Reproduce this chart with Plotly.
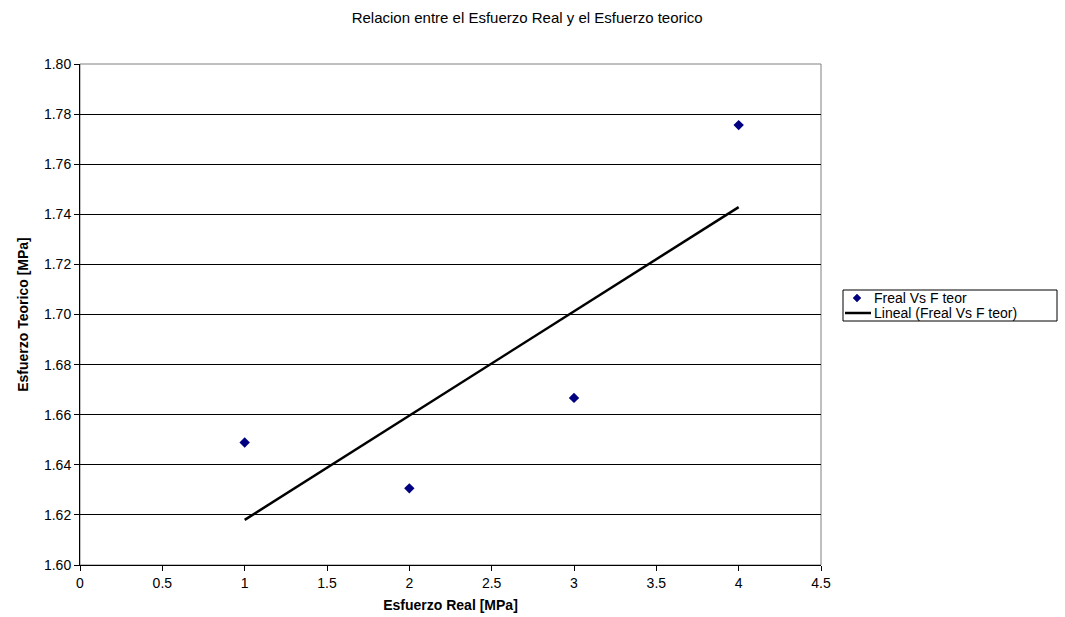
import numpy as np
import plotly.graph_objects as go

x_real = [1, 2, 3, 4]
y_teor = [1.6489, 1.6306, 1.6667, 1.7756]
series_name = "Freal Vs F teor"
trend_name = "Lineal (Freal Vs F teor)"
x_ticks = [0, 0.5, 1, 1.5, 2, 2.5, 3, 3.5, 4, 4.5]
x_tick_text = ["0", "0.5", "1", "1.5", "2", "2.5", "3", "3.5", "4", "4.5"]
y_ticks = [1.60, 1.62, 1.64, 1.66, 1.68, 1.70, 1.72, 1.74, 1.76, 1.78, 1.80]
y_tick_text = ["%.2f" % v for v in y_ticks]

slope, intercept = np.polyfit(x_real, y_teor, 1)
x_fit = [min(x_real), max(x_real)]
y_fit = [slope * v + intercept for v in x_fit]

font = "Liberation Sans, Arial, sans-serif"
MARKER_COLOR = "#000080"

# plot area geometry (pixels)
W, H = 1065, 617
ML, MR, MT, MB = 80, 244, 64, 52
PW, PH = W - ML - MR, H - MT - MB


def px_x(px):
    return (px - ML) / PW


def px_y(py):
    return (H - MB - py) / PH


fig = go.Figure()
fig.add_trace(go.Scatter(
    x=x_real, y=y_teor, mode="markers", name=series_name,
    marker=dict(symbol="diamond", size=8, color=MARKER_COLOR),
))
fig.add_trace(go.Scatter(
    x=x_fit, y=y_fit, mode="lines", name=trend_name,
    line=dict(color="black", width=2.5),
))

# custom compact legend (Excel style)
lx0, lx1, ly0, ly1 = 843, 1057, 290, 321
row1, row2 = 298, 313
dcx, dh = 857, 4
shapes = [
    dict(type="rect", xref="paper", yref="paper", x0=0, x1=1, y0=0, y1=1,
         line=dict(color="#808080", width=1), layer="below"),
    dict(type="rect", xref="paper", yref="paper",
         x0=px_x(lx0), x1=px_x(lx1), y0=px_y(ly1), y1=px_y(ly0),
         line=dict(color="black", width=1), fillcolor="white"),
    dict(type="path", xref="paper", yref="paper",
         path="M %f %f L %f %f L %f %f L %f %f Z" % (
             px_x(dcx - dh), px_y(row1), px_x(dcx), px_y(row1 - dh),
             px_x(dcx + dh), px_y(row1), px_x(dcx), px_y(row1 + dh)),
         fillcolor=MARKER_COLOR, line=dict(color=MARKER_COLOR, width=0.5)),
    dict(type="line", xref="paper", yref="paper",
         x0=px_x(845), x1=px_x(871), y0=px_y(row2), y1=px_y(row2),
         line=dict(color="black", width=2.5)),
]
annotations = [
    dict(text=series_name, xref="paper", yref="paper", x=px_x(872), y=px_y(row1),
         xanchor="left", yanchor="middle", showarrow=False,
         font=dict(size=14, family=font, color="black")),
    dict(text=trend_name, xref="paper", yref="paper", x=px_x(872), y=px_y(row2),
         xanchor="left", yanchor="middle", showarrow=False,
         font=dict(size=14, family=font, color="black")),
]

fig.update_layout(
    width=W, height=H,
    margin=dict(l=ML, r=MR, t=MT, b=MB, autoexpand=False),
    paper_bgcolor="white", plot_bgcolor="white",
    font=dict(family=font, size=14, color="black"),
    title=dict(text="Relacion entre el Esfuerzo Real y el Esfuerzo teorico",
               x=0.495, xref="container", xanchor="center",
               y=1 - 18 / H, yref="container", yanchor="middle",
               font=dict(size=15, family=font, color="black")),
    showlegend=False,
    shapes=shapes,
    annotations=annotations,
)

fig.update_xaxes(
    range=[0, 4.5], tickvals=x_ticks, ticktext=x_tick_text,
    showgrid=False, zeroline=False, automargin=False,
    showline=True, linecolor="black", linewidth=1,
    ticks="outside", ticklen=5, tickcolor="black",
    tickfont=dict(size=14, family=font),
    title=dict(text="<b>Esfuerzo Real [MPa]</b>", font=dict(size=14, family=font), standoff=10),
)
fig.update_yaxes(
    range=[1.60, 1.80], tickvals=y_ticks, ticktext=y_tick_text,
    showgrid=True, gridcolor="black", gridwidth=1, zeroline=False, automargin=False,
    showline=True, linecolor="black", linewidth=1,
    ticks="outside", ticklen=5, tickcolor="black",
    tickfont=dict(size=14, family=font),
    title=dict(text="<b>Esfuerzo Teorico [MPa]</b>", font=dict(size=14, family=font), standoff=12),
)

fig.write_html("out.html")
